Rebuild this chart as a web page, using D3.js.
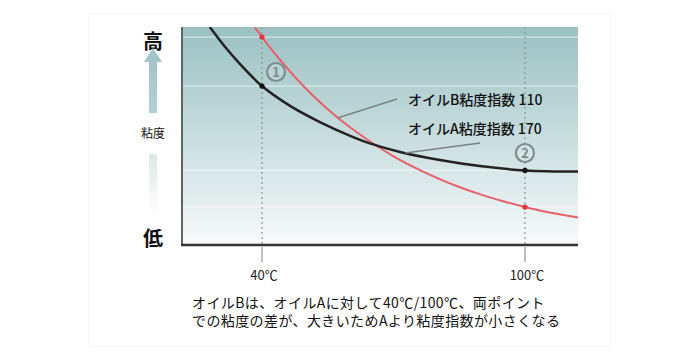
<!DOCTYPE html>
<html><head><meta charset="utf-8">
<script src="https://cdn.jsdelivr.net/npm/d3@7"></script>
<style>
html,body{margin:0;padding:0;background:#fff;}
svg{display:block;font-family:"Noto Sans CJK JP","Noto Sans",sans-serif;}
</style></head>
<body><svg id="c" width="700" height="362"></svg>
<script>
// ---- data ----
const oilATemps = [28.1, 31.6, 35.0, 40, 46.4, 53.2, 60.8, 64.6, 71.5, 80.6, 89.7, 100, 112.1];
const oilAVisc  = [100, 90.8, 83.0, 72.9, 63.8, 56.4, 49.5, 46.6, 42.7, 39.0, 36.2, 34.2, 33.7];
const oilBTemps = [38.4, 40, 45, 50, 55, 60, 65, 70, 75, 80, 85, 90, 95, 100, 105, 112.1];
const oilBVisc  = [99.8, 95.4, 82.8, 71.8, 62.3, 54.1, 47.0, 40.7, 35.4, 30.7, 26.6, 23.1, 20.1, 17.4, 15.1, 12.6];
const tickTemps = [40, 100];
const tickLabels = ["40℃", "100℃"];
const labelB = "オイルB粘度指数 110";
const labelA = "オイルA粘度指数 170";
const captionLines = ["オイルBは、オイルAに対して40℃/100℃、両ポイント", "での粘度の差が、大きいためAより粘度指数が小さくなる"];
const yHigh = "高", yLow = "低", yTitle = "粘度";

// ---- layout ----
const L = 182, R = 578, T = 27, B = 245;
const x = d3.scaleLinear().domain([21.75, 112.1]).range([L, R]);
const y = d3.scaleLinear().domain([0, 100]).range([B, T]);
const svg = d3.select("#c");
const defs = svg.append("defs");

const bg = defs.append("linearGradient").attr("id","bg").attr("x1",0).attr("y1",0).attr("x2",0).attr("y2",1);
bg.append("stop").attr("offset","0%").attr("stop-color","#9bc1c3");
bg.append("stop").attr("offset","45%").attr("stop-color","#c3dadb");
bg.append("stop").attr("offset","100%").attr("stop-color","#f8fafa");
defs.append("clipPath").attr("id","clip").append("rect").attr("x",L).attr("y",T).attr("width",R-L).attr("height",B-T);

const up = defs.append("linearGradient").attr("id","up").attr("x1",0).attr("y1",0).attr("x2",0).attr("y2",1);
up.append("stop").attr("offset","0%").attr("stop-color","#9fc3c5");
up.append("stop").attr("offset","100%").attr("stop-color","#b5d0d2");
const dn = defs.append("linearGradient").attr("id","dn").attr("x1",0).attr("y1",0).attr("x2",0).attr("y2",1);
dn.append("stop").attr("offset","0%").attr("stop-color","#dde7e8");
dn.append("stop").attr("offset","100%").attr("stop-color","#ffffff");

// faint frame
svg.append("rect").attr("x",88.5).attr("y",14.5).attr("width",522).attr("height",332)
  .attr("fill","none").attr("stroke","#f6f6f6");

// plot background
svg.append("rect").attr("x",L).attr("y",T).attr("width",R-L).attr("height",B-T).attr("fill","url(#bg)");

// reference lines at the marked points
const refs = [
  {t:40, v:oilBVisc[oilBTemps.indexOf(40)], c:"#e2343f"},
  {t:40, v:oilAVisc[oilATemps.indexOf(40)], c:"#111"},
  {t:100, v:oilAVisc[oilATemps.indexOf(100)], c:"#111"},
  {t:100, v:oilBVisc[oilBTemps.indexOf(100)], c:"#e2343f"}
];
svg.append("g").selectAll("line").data(refs).join("line")
  .attr("x1",L).attr("x2",R).attr("y1",d=>y(d.v)).attr("y2",d=>y(d.v))
  .attr("stroke","#ffffff").attr("stroke-opacity",0.5).attr("stroke-width",1.2);

// vertical dotted lines
tickTemps.forEach(t=>{
  svg.append("line").attr("x1",x(t)).attr("x2",x(t)).attr("y1",T).attr("y2",B)
    .attr("stroke","#8a9494").attr("stroke-width",1.2).attr("stroke-dasharray","2,3");
  svg.append("line").attr("x1",x(t)).attr("x2",x(t)).attr("y1",B+2).attr("y2",B+17)
    .attr("stroke","#aaaaaa").attr("stroke-width",1.5);
});

// axes
svg.append("line").attr("x1",L).attr("x2",L).attr("y1",T).attr("y2",B)
  .attr("stroke","#5d6566").attr("stroke-width",2);
svg.append("line").attr("x1",L-1).attr("x2",R).attr("y1",B).attr("y2",B)
  .attr("stroke","#333").attr("stroke-width",2.5);

// curves
const line = d3.line().x(d=>x(d[0])).y(d=>y(d[1])).curve(d3.curveCatmullRom.alpha(0.5));
const g = svg.append("g").attr("clip-path","url(#clip)");
g.append("path").datum(oilBTemps.map((t,i)=>[t,oilBVisc[i]])).attr("d",line)
  .attr("fill","none").attr("stroke","#e8606c").attr("stroke-width",2);
g.append("path").datum(oilATemps.map((t,i)=>[t,oilAVisc[i]])).attr("d",line)
  .attr("fill","none").attr("stroke","#222").attr("stroke-width",2.5);

// dots
svg.append("g").selectAll("circle").data(refs).join("circle")
  .attr("cx",d=>x(d.t)).attr("cy",d=>y(d.v)).attr("r",2.6).attr("fill",d=>d.c);

// leader lines
function interp(ts, vs, t){ return d3.scaleLinear().domain(ts).range(vs)(t); }
const bT = 57.4, aT = 72.7;
svg.append("line").attr("x1",x(bT)).attr("y1",y(interp(oilBTemps,oilBVisc,bT))).attr("x2",397).attr("y2",99)
  .attr("stroke","#7a8384").attr("stroke-width",1.5);
svg.append("line").attr("x1",x(aT)).attr("y1",y(interp(oilATemps,oilAVisc,aT))).attr("x2",480).attr("y2",143)
  .attr("stroke","#7a8384").attr("stroke-width",1.5);

// labels
svg.append("text").attr("x",408).attr("y",105).attr("font-size",14).attr("font-weight",500).attr("fill","#111").text(labelB);
svg.append("text").attr("x",408).attr("y",134).attr("font-size",14).attr("font-weight",500).attr("fill","#111").text(labelA);

// circled numbers
[{cx:276, cy:72, n:"1"},{cx:x(100), cy:153, n:"2"}].forEach(d=>{
  svg.append("circle").attr("cx",d.cx).attr("cy",d.cy).attr("r",9).attr("fill","#ffffff").attr("fill-opacity",0.15)
    .attr("stroke","#7f8d8d").attr("stroke-width",2.2);
  svg.append("text").attr("x",d.cx).attr("y",d.cy+5).attr("text-anchor","middle")
    .attr("font-size",13.5).attr("font-weight",700).attr("fill","#7f8d8d").text(d.n);
});

// x tick labels
svg.append("g").selectAll("text").data(tickTemps).join("text")
  .attr("x",d=>x(d)+2).attr("y",280).attr("text-anchor","middle").attr("font-size",13)
  .attr("fill","#222").text((d,i)=>tickLabels[i]);

// y side: 高 arrow 粘度 bar 低
const ax = 153;
svg.append("text").attr("x",ax).attr("y",49).attr("text-anchor","middle").attr("font-size",20).attr("font-weight",700).attr("fill","#111").text(yHigh);
svg.append("path").attr("d",`M${ax},48 L${ax+9},62 L${ax+4},62 L${ax+4},113 L${ax-4},113 L${ax-4},62 L${ax-9},62 Z`).attr("fill","url(#up)");
svg.append("text").attr("x",ax).attr("y",138).attr("text-anchor","middle").attr("font-size",12).attr("fill","#111").text(yTitle);
svg.append("rect").attr("x",ax-4).attr("y",154).attr("width",8).attr("height",60).attr("fill","url(#dn)");
svg.append("text").attr("x",ax).attr("y",246).attr("text-anchor","middle").attr("font-size",20).attr("font-weight",700).attr("fill","#111").text(yLow);

// caption
svg.append("g").selectAll("text").data(captionLines).join("text")
  .attr("x",192).attr("y",(d,i)=>308+i*17.5).attr("font-size",14).attr("letter-spacing",0.4).attr("fill","#111").text(d=>d);
</script></body></html>
